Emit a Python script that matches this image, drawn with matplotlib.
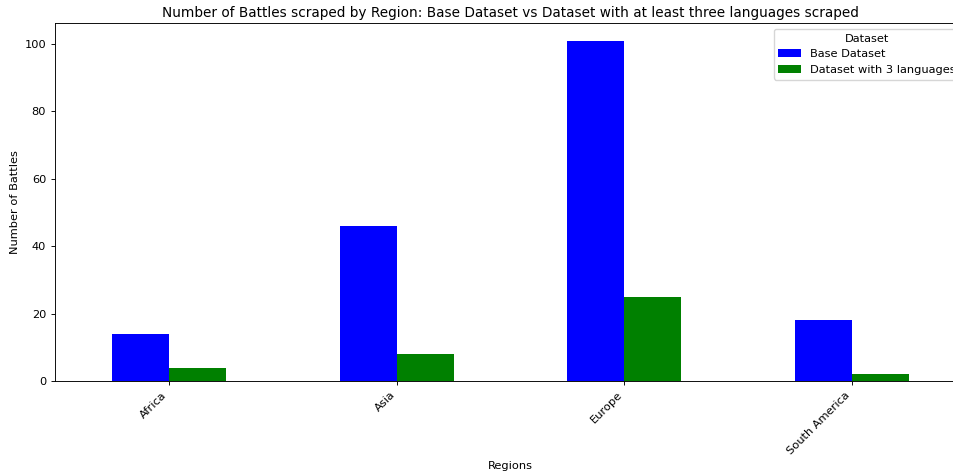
import numpy as np
import pandas as pd
import matplotlib
matplotlib.use("Agg")
import matplotlib.pyplot as plt

regions = ["Africa", "Asia", "Europe", "South America"]
base_counts = [14, 46, 101, 18]
three_lang_counts = [4, 8, 25, 2]

# original was drawn bigger and scaled down, so shrink everything a bit
s = 0.82
plt.rcParams.update({
    "font.size": 10 * s,
    "axes.linewidth": 0.8 * s,
    "xtick.major.size": 3.5 * s,
    "ytick.major.size": 3.5 * s,
    "xtick.major.width": 0.8 * s,
    "ytick.major.width": 0.8 * s,
    "legend.fontsize": 10 * s,
    "legend.title_fontsize": 10 * s,
})

df = pd.DataFrame({"Base Dataset": base_counts,
                   "Dataset with 3 languages": three_lang_counts}, index=regions)

fig = plt.figure(figsize=(9.54, 4.73), dpi=100)
# axes reach past the right edge, as in the cropped original
ax = fig.add_axes([55 / 954, (473 - 381) / 473, 911 / 954, 357.5 / 473])
df.plot(kind="bar", ax=ax, color=["blue", "green"])

ax.set_title("Number of Battles scraped by Region: Base Dataset vs Dataset with at least three languages scraped",
             pad=6 * s)
ax.set_xlabel("Regions", labelpad=4 * s)
ax.set_ylabel("Number of Battles", labelpad=4 * s)
ax.set_xticklabels(regions, rotation=45, ha="right")
ax.legend(title="Dataset", loc="upper right")

fig.savefig("out.png", dpi=100)
